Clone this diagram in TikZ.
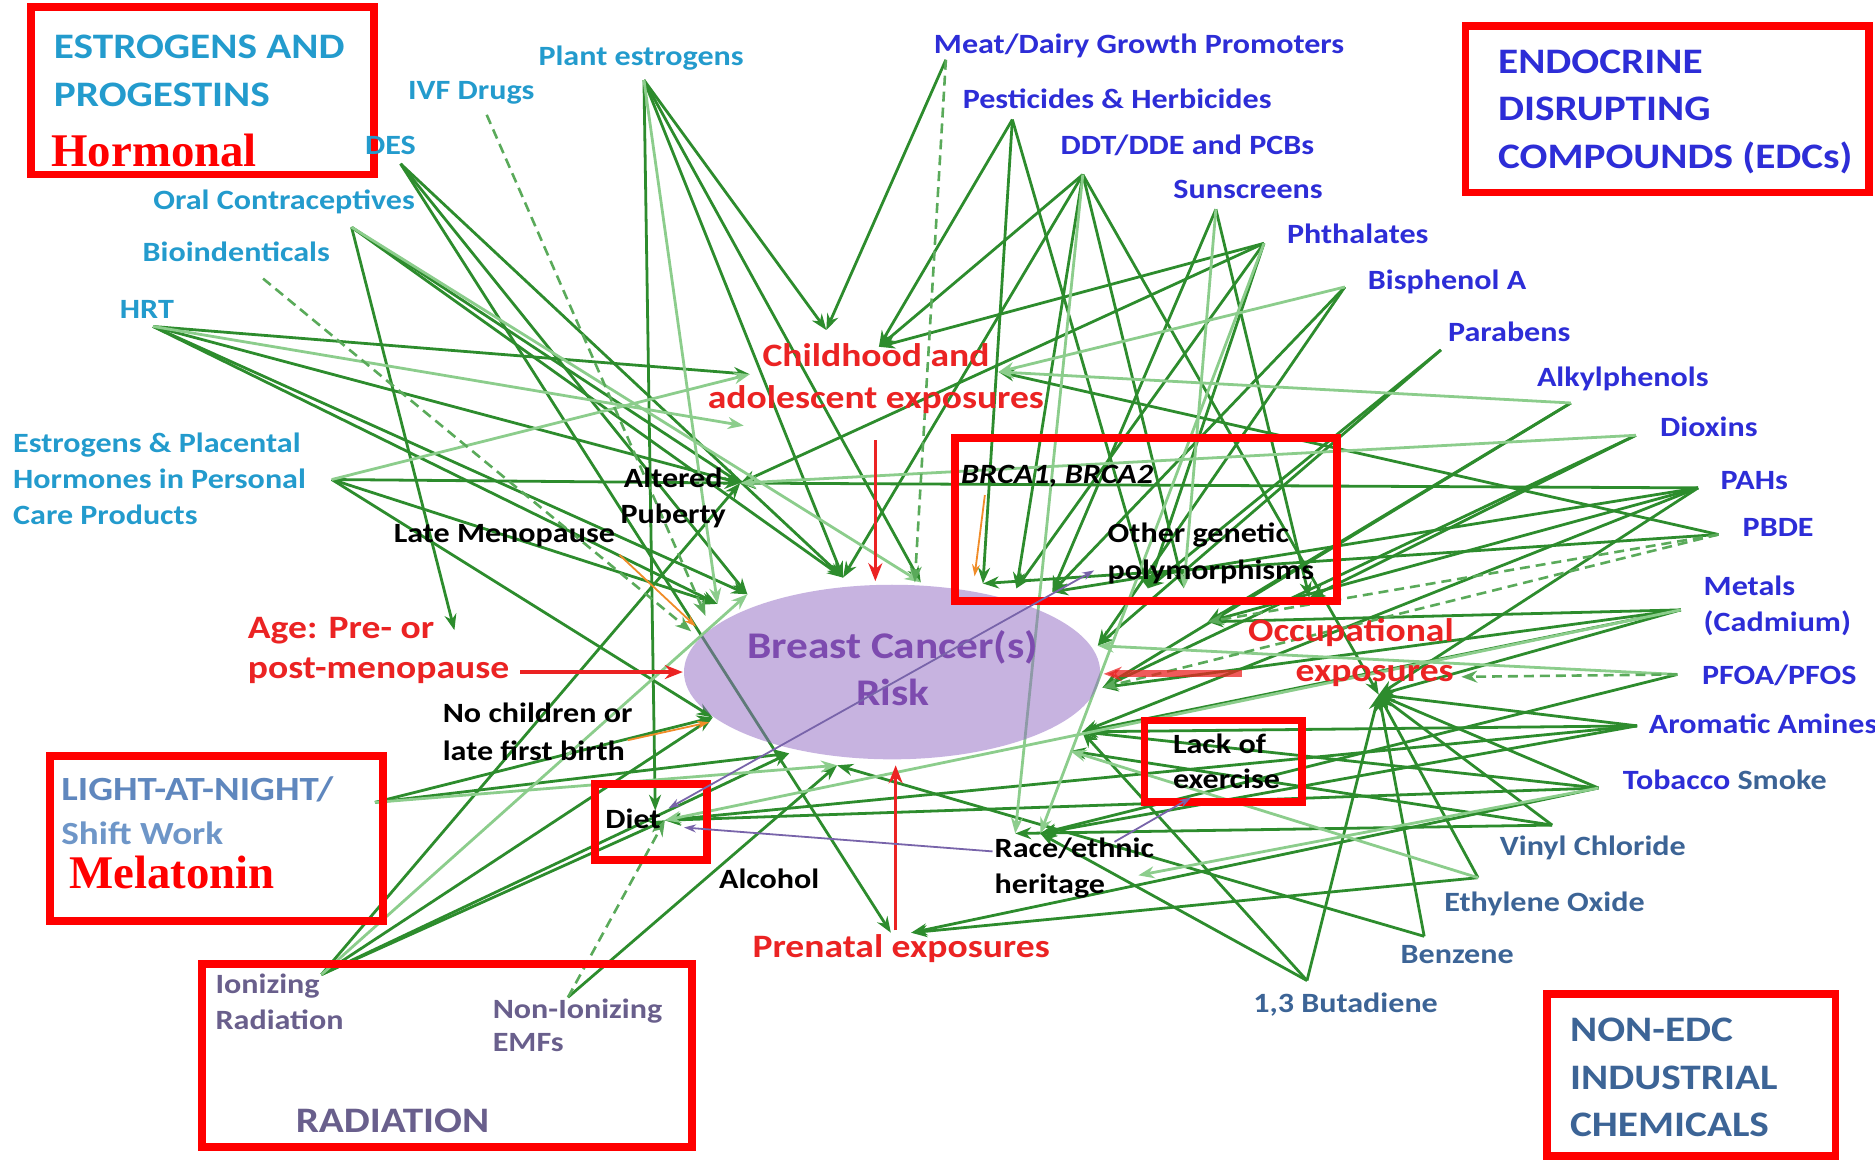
\documentclass[tikz,border=0pt]{standalone}
\usepackage{fontspec}
\usetikzlibrary{arrows.meta}
\newfontfamily\calfnt[FakeStretch=1.15]{Carlito}
\newfontfamily\tmsfnt{Liberation Serif}
\definecolor{hormC}{RGB}{35,155,205}
\definecolor{edcB}{RGB}{45,45,215}
\definecolor{nonE}{RGB}{60,100,150}
\definecolor{lanB}{RGB}{95,135,190}
\definecolor{shiftB}{RGB}{110,150,200}
\definecolor{radP}{RGB}{105,95,140}
\definecolor{labR}{RGB}{235,35,35}
\definecolor{boxR}{RGB}{255,0,0}
\definecolor{canP}{RGB}{125,75,175}
\definecolor{ellF}{RGB}{145,105,195}
\definecolor{gdark}{RGB}{45,140,45}
\definecolor{glight}{RGB}{140,205,140}
\definecolor{gmid}{RGB}{90,170,90}
\definecolor{orA}{RGB}{240,140,40}
\definecolor{purL}{RGB}{120,100,170}
\begin{document}
\begin{tikzpicture}[x=0.6pt,y=-0.6pt,
  lab/.style={font=\calfnt\bfseries\fontsize{14}{18}\selectfont, inner sep=0pt, anchor=base west, align=left},
  hdr/.style={font=\calfnt\bfseries\fontsize{18}{23.8}\selectfont, inner sep=0pt, anchor=base west, align=left},
  redlab/.style={font=\calfnt\bfseries\fontsize{16.4}{20}\selectfont, inner sep=0pt, anchor=base west, align=left, text=labR},
  tms/.style={font=\tmsfnt\bfseries\fontsize{23.5}{26}\selectfont, inner sep=0pt, anchor=base west, text=boxR},
  boxr/.style={draw=boxR, line width=3.9pt},
  ga/.style={draw=gdark, line width=1.4pt, -{Stealth[length=8pt,width=6pt]}},
  gl/.style={draw=glight, line width=1.4pt, -{Stealth[length=8pt,width=6pt]}},
  gd/.style={draw=gmid, line width=1.3pt, dash pattern=on 5pt off 3pt, -{Stealth[length=8pt,width=6pt]}},
  rarr/.style={draw=labR, line width=1.8pt, -{Stealth[length=9pt,width=7pt]}},
  oarr/.style={draw=orA, line width=0.9pt, -{Stealth[length=6pt,width=4pt]}},
  parr/.style={draw=purL, line width=0.9pt, -{Stealth[length=6pt,width=4pt]}}
]
\useasboundingbox (0,0) rectangle (1568,970);
\fill[white] (0,0) rectangle (1568,970);

% ---------- source points ----------
\coordinate (sPE) at (538.5,67);
\coordinate (sIVF) at (407,96);
\coordinate (sDES) at (335,137);
\coordinate (sOC) at (294,190);
\coordinate (sBio) at (220,233);
\coordinate (sHRT) at (128,273);
\coordinate (sEPH) at (277.5,401);
\coordinate (sLight) at (313.6,671);
\coordinate (sIon) at (268.8,815);
\coordinate (sNon) at (475,834);
\coordinate (sMeat) at (791,50);
\coordinate (sPest) at (846.6,100);
\coordinate (sDDT) at (905.5,146);
\coordinate (sSun) at (1016.8,175);
\coordinate (sPhth) at (1057,203.5);
\coordinate (sBPA) at (1124.6,240);
\coordinate (sPar) at (1205,292.6);
\coordinate (sAlk) at (1313.6,337);
\coordinate (sDiox) at (1368,364);
\coordinate (sPAH) at (1420,408);
\coordinate (sPBDE) at (1437,447);
\coordinate (sMet) at (1405.6,510);
\coordinate (sPFOA) at (1402.7,564);
\coordinate (sArom) at (1369,607);
\coordinate (sTob) at (1336.7,659);
\coordinate (sVin) at (1298,690);
\coordinate (sEth) at (1236,734);
\coordinate (sBen) at (1191,783);
\coordinate (sBut) at (1093,820);

% ---------- target points ----------
\coordinate (tChA) at (691,276);
\coordinate (tChB) at (735,290);
\coordinate (tChL) at (627,313);
\coordinate (tChR) at (835,311);
\coordinate (tAP) at (619,404);
\coordinate (tAPt) at (622,356);
\coordinate (tAge) at (380,527);
\coordinate (tE1) at (600,505);
\coordinate (tE1b) at (590,515);
\coordinate (tE1c) at (578,528);
\coordinate (tE2) at (625,497);
\coordinate (tE3) at (705,483);
\coordinate (tE4) at (770,487);
\coordinate (tE4c) at (765,487);
\coordinate (tE5a) at (822,488);
\coordinate (tE5) at (850,492);
\coordinate (tE5b) at (880,495);
\coordinate (tE6) at (918,540);
\coordinate (tE6b) at (922,575);
\coordinate (tE7) at (905,612);
\coordinate (tE7b) at (895,628);
\coordinate (tE8) at (660,630);
\coordinate (tE9) at (596,600);
\coordinate (tE10) at (700,640);
\coordinate (tDiet) at (556,686);
\coordinate (tDiet2) at (548,678);
\coordinate (tRace1) at (849,697);
\coordinate (tRace2) at (870,697);
\coordinate (tPre1) at (745,780);
\coordinate (tPre2) at (762,780);
\coordinate (tOcc) at (1153,581);
\coordinate (tOccR) at (1222,566);
\coordinate (tOccL) at (1010,520);
\coordinate (tHer) at (952,732);
\coordinate (tPolyB) at (960,492);
\coordinate (tBR1) at (990,492);
\coordinate (tBR2) at (1095,500);

% ---------- green connectors ----------
\foreach \s/\t in {sPE/tDiet2, sPE/tChA, sPE/tE3, sPE/tE4,
  sDES/tE2, sDES/tPre1, sDES/tE3,
  sOC/tAge, sOC/tAP, sOC/tE3,
  sHRT/tChL, sHRT/tE1, sHRT/tE2, sHRT/tAP,
  sEPH/tAP, sEPH/tE1, sEPH/tE9,
  sLight/tE9, sLight/tE8,
  sIon/tDiet, sIon/tE9, sIon/tE8, sIon/tAP,
  sNon/tE10,
  sMeat/tChA,
  sPest/tChB, sPest/tE5a, sPest/tPolyB,
  sDDT/tChB, sDDT/tE3, sDDT/tE5, sDDT/tBR1, sDDT/tOcc,
  sSun/tE5b, sSun/tBR2,
  sPhth/tAP, sPhth/tChB, sPhth/tE5, sPhth/tPolyB,
  sBPA/tE5b, sBPA/tE6,
  sPar/tE6, sPar/tPolyB,
  sAlk/tE6b, sAlk/tOccL,
  sDiox/tE6b, sDiox/tBR2,
  sPAH/tAP, sPAH/tE5b, sPAH/tOccL, sPAH/tOcc, sPAH/tE7,
  sPBDE/tE5a, sPBDE/tChR,
  sMet/tE6b, sMet/tOccL, sMet/tOcc, sMet/tE7,
  sPFOA/tRace2,
  sArom/tE7, sArom/tRace2, sArom/tOcc, sArom/tDiet,
  sTob/tDiet, sTob/tPre2, sTob/tE7, sTob/tOcc,
  sVin/tOcc, sVin/tE7b, sVin/tRace1,
  sEth/tOcc, sEth/tPre2,
  sBen/tOcc, sBen/tE10,
  sBut/tOcc, sBut/tE7, sBut/tRace2}
  \draw[ga] (\s) -- (\t);
\foreach \s/\t in {sPE/tE1, sOC/tE4, sHRT/tAPt, sEPH/tChL, sLight/tE10,
  sIon/tE2, sDDT/tRace1, sSun/tBR1, sPhth/tRace2, sBPA/tChR,
  sAlk/tChR, sDiox/tAP, sMet/tDiet, sPFOA/tE6, sTob/tHer, sEth/tE7b}
  \draw[gl] (\s) -- (\t);
\foreach \s/\t in {sIVF/tE1b, sBio/tE1c, sMeat/tE4c, sNon/tDiet,
  sPBDE/tOccL, sPBDE/tE6b, sPFOA/tOccR}
  \draw[gd] (\s) -- (\t);

% ---------- central ellipse (translucent, lines show through) ----------
\fill[ellF, opacity=0.5] (746,562) ellipse [x radius=174, y radius=73];
\node[font=\calfnt\bfseries\fontsize{18.9}{23.4}\selectfont, text=canP, align=center, inner sep=0pt, anchor=base] (cancer) at (746.5,590) {Breast Cancer(s)\\Risk};

% ---------- red boxes ----------
\draw[boxr] (26,6) rectangle (313,146);
\draw[boxr] (1225.5,21.5) rectangle (1563,161);
\draw[boxr] (798.5,366.5) rectangle (1118,502.5);
\draw[boxr] (42,632.5) rectangle (320.5,770);
\draw[boxr] (497.5,655.5) rectangle (591.5,719.5);
\draw[boxr] (957,602.5) rectangle (1088.5,671);
\draw[boxr] (169,806) rectangle (578.5,959.5);
\draw[boxr] (1294,831) rectangle (1535,966.5);

% ---------- hormonal labels (multi-line nodes anchored at last baseline) ----------
\node[hdr, text=hormC] (hEP) at (44.8,89) {ESTROGENS AND\\PROGESTINS};
\node[tms] (hHorm) at (42.7,139.5) {Hormonal};
\node[lab, text=hormC] (nPE) at (450,54.4) {Plant estrogens};
\node[lab, text=hormC] (nIVF) at (341,83.6) {IVF Drugs};
\node[lab, text=hormC] (nDES) at (305,128.8) {DES};
\node[lab, text=hormC] (nOC) at (128,175.6) {Oral Contraceptives};
\node[lab, text=hormC] (nBio) at (119,218.8) {Bioindenticals};
\node[lab, text=hormC] (nHRT) at (100,266) {HRT};
\node[lab, text=hormC, font=\calfnt\bfseries\fontsize{14}{18.2}\selectfont] (nEPH) at (10.7,439) {Estrogens \& Placental\\Hormones in Personal\\Care Products};

% ---------- EDC labels ----------
\node[hdr, text=edcB] (hEDC) at (1252.5,140.7) {ENDOCRINE\\DISRUPTING\\COMPOUNDS (EDCs)};
\node[lab, text=edcB] (nMeat) at (780.7,44.6) {Meat/Dairy Growth Promoters};
\node[lab, text=edcB] (nPest) at (804.8,90.6) {Pesticides \& Herbicides};
\node[lab, text=edcB] (nDDT) at (886.7,128.8) {DDT/DDE and PCBs};
\node[lab, text=edcB] (nSun) at (981,166) {Sunscreens};
\node[lab, text=edcB] (nPhth) at (1076,203.5) {Phthalates};
\node[lab, text=edcB] (nBPA) at (1143.6,242) {Bisphenol A};
\node[lab, text=edcB] (nPar) at (1210.7,285.7) {Parabens};
\node[lab, text=edcB] (nAlk) at (1285,323) {Alkylphenols};
\node[lab, text=edcB] (nDiox) at (1388,365) {Dioxins};
\node[lab, text=edcB] (nPAH) at (1438.5,409.7) {PAHs};
\node[lab, text=edcB] (nPBDE) at (1457,448.7) {PBDE};
\node[lab, text=edcB] (nMet) at (1424.4,528) {Metals\\(Cadmium)};
\node[lab, text=edcB] (nPFOA) at (1423,572.8) {PFOA/PFOS};
\node[lab, text=edcB] (nArom) at (1378.6,613) {Aromatic Amines};
\node[lab, text=edcB] (nTob) at (1356.8,660.5) {Tobacco \textcolor{nonE}{Smoke}};

% ---------- non-EDC labels ----------
\node[lab, text=nonE] (nVin) at (1254,715) {Vinyl Chloride};
\node[lab, text=nonE] (nEth) at (1207.5,762) {Ethylene Oxide};
\node[lab, text=nonE] (nBen) at (1171,805.5) {Benzene};
\node[lab, text=nonE] (nBut) at (1047.7,847) {1,3 Butadiene};
\node[hdr, text=nonE] (hNon) at (1312.7,950.4) {NON-EDC\\INDUSTRIAL\\CHEMICALS};

% ---------- light at night / radiation ----------
\node[hdr, font=\calfnt\bfseries\fontsize{17}{22}\selectfont] (hLAN) at (51,706) {\textcolor{lanB}{LIGHT-AT-NIGHT/}\\\textcolor{shiftB}{\fontsize{16.2}{22}\selectfont Shift Work}};
\node[tms] (hMel) at (57.6,743) {Melatonin};
\node[lab, text=radP] (nIon) at (180,861) {Ionizing\\Radiation};
\node[lab, text=radP, font=\calfnt\bfseries\fontsize{14}{16.9}\selectfont] (nNon) at (411.8,879.6) {Non-Ionizing\\EMFs};
\node[hdr, text=radP] (hRad) at (247,947) {RADIATION};

% ---------- intermediate factors ----------
\node[redlab, anchor=base, align=center, font=\calfnt\bfseries\fontsize{16.4}{21}\selectfont] (nChild) at (732.5,341.5) {Childhood and\\adolescent exposures};
\node[lab, anchor=base, align=center, font=\calfnt\bfseries\fontsize{14}{17.7}\selectfont] (nAlt) at (563,437.5) {Altered\\Puberty};
\node[lab] (nLate) at (329,454) {Late Menopause};
\node[lab, font=\calfnt\bfseries\itshape\fontsize{14}{18}\selectfont] (nBRCA) at (803.5,404) {BRCA1, BRCA2};
\node[lab, font=\calfnt\bfseries\fontsize{14}{18.6}\selectfont] (nPoly) at (926,485) {Other genetic\\polymorphisms};
\node[redlab] (nAge) at (207,567) {Age: Pre- or\\post-menopause};
\node[redlab, anchor=base east, align=right] (nOcc) at (1216,570) {Occupational\\exposures};
\node[lab, font=\calfnt\bfseries\fontsize{14}{18.6}\selectfont] (nNoch) at (370,635.6) {No children or\\late first birth};
\node[lab] (nDiet) at (506,692.5) {Diet};
\node[lab, font=\calfnt\bfseries\fontsize{14}{17.4}\selectfont] (nLack) at (980.6,659) {Lack of\\exercise};
\node[lab] (nRace) at (831.5,746.8) {Race/ethnic\\heritage};
\node[lab] (nAlc) at (601,742.7) {Alcohol};
\node[redlab] (nPre) at (629,801) {Prenatal exposures};

% ---------- red arrows ----------
\coordinate (childOut) at (732,368);
\coordinate (ellTop) at (732,486);
\coordinate (ageOut) at (435,562);
\coordinate (ellLeft) at (571,562);
\coordinate (occOut) at (1038.5,563.5);
\coordinate (ellRight) at (923,563.5);
\coordinate (preOut) at (749,778);
\coordinate (ellBot) at (749,640);
\draw[rarr] (childOut) -- (ellTop);
\draw[rarr] (ageOut) -- (ellLeft);
\draw[rarr, line width=3.5pt, opacity=0.75] (occOut) -- (ellRight);
\draw[rarr] (preOut) -- (ellBot);

% ---------- orange arrows ----------
\coordinate (lateOut) at (518,464);
\coordinate (lateIn) at (582,524);
\coordinate (nochOut) at (525,619);
\coordinate (nochIn) at (593,604);
\coordinate (brcaOut) at (823.6,414);
\coordinate (brcaIn) at (815,482);
\draw[oarr] (lateOut) -- (lateIn);
\draw[oarr] (nochOut) -- (nochIn);
\draw[oarr] (brcaOut) -- (brcaIn);

% ---------- purple arrows ----------
\coordinate (dietP) at (559,676);
\coordinate (polyP) at (915,477);
\coordinate (raceP) at (830,712);
\coordinate (dietP2) at (572,692);
\coordinate (raceP2) at (932,704);
\coordinate (lackP) at (996,667);
\draw[parr, {Stealth[length=6pt,width=4pt]}-{Stealth[length=6pt,width=4pt]}] (dietP) -- (polyP);
\draw[parr] (raceP) -- (dietP2);
\draw[parr] (raceP2) -- (lackP);
\end{tikzpicture}
\end{document}
